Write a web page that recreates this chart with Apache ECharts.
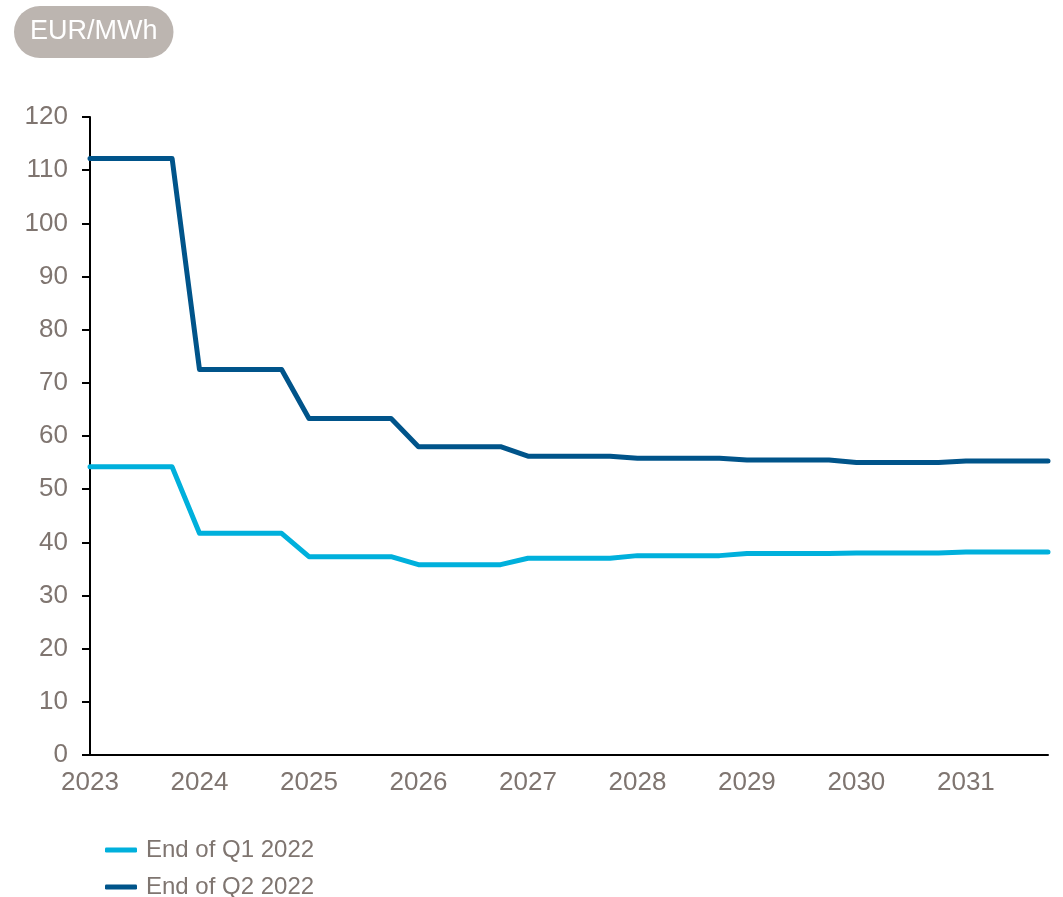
<!DOCTYPE html>
<html>
<head>
<meta charset="utf-8">
<script src="https://cdn.jsdelivr.net/npm/echarts@6/dist/echarts.min.js"></script>
<style>
  html, body { margin: 0; padding: 0; background: #ffffff; }
  #main { width: 1063px; height: 897px; }
</style>
</head>
<body>
<div id="main"></div>
<script>
    // 季度分类（每年4个季度）
    var quarters = [
        '2023 Q1', '2023 Q2', '2023 Q3', '2023 Q4',
        '2024 Q1', '2024 Q2', '2024 Q3', '2024 Q4',
        '2025 Q1', '2025 Q2', '2025 Q3', '2025 Q4',
        '2026 Q1', '2026 Q2', '2026 Q3', '2026 Q4',
        '2027 Q1', '2027 Q2', '2027 Q3', '2027 Q4',
        '2028 Q1', '2028 Q2', '2028 Q3', '2028 Q4',
        '2029 Q1', '2029 Q2', '2029 Q3', '2029 Q4',
        '2030 Q1', '2030 Q2', '2030 Q3', '2030 Q4',
        '2031 Q1', '2031 Q2', '2031 Q3', '2031 Q4'
    ];

    var endQ1 = [
        54.2, 54.2, 54.2, 54.2,
        41.7, 41.7, 41.7, 41.7,
        37.3, 37.3, 37.3, 37.3,
        35.8, 35.8, 35.8, 35.8,
        37.0, 37.0, 37.0, 37.0,
        37.5, 37.5, 37.5, 37.5,
        37.9, 37.9, 37.9, 37.9,
        38.0, 38.0, 38.0, 38.0,
        38.2, 38.2, 38.2, 38.2
    ];

    var endQ2 = [
        112.2, 112.2, 112.2, 112.2,
        72.5, 72.5, 72.5, 72.5,
        63.3, 63.3, 63.3, 63.3,
        58.0, 58.0, 58.0, 58.0,
        56.2, 56.2, 56.2, 56.2,
        55.8, 55.8, 55.8, 55.8,
        55.5, 55.5, 55.5, 55.5,
        55.0, 55.0, 55.0, 55.0,
        55.3, 55.3, 55.3, 55.3
    ];

    var seriesNames = ['End of Q1 2022', 'End of Q2 2022'];
    var unitLabel = 'EUR/MWh';

    var grey = '#7f7570';
    var font = 'Liberation Sans, Arial, sans-serif';

    var myChart = echarts.init(document.getElementById('main'));

    var option = {
        animation: false,
        backgroundColor: '#ffffff',
        title: {
            text: unitLabel,
            left: 14,
            top: 6,
            backgroundColor: '#bcb5b0',
            borderRadius: 26,
            padding: [12, 16, 12, 16],
            textStyle: { color: '#ffffff', fontSize: 27, fontWeight: 'normal', fontFamily: font, lineHeight: 28 }
        },
        legend: {
            orient: 'vertical',
            left: 100,
            top: 833,
            height: 80,
            itemWidth: 32,
            itemHeight: 5,
            itemGap: 13,
            icon: 'roundRect',
            textStyle: { color: grey, fontSize: 24, fontFamily: font, padding: [0, 0, 0, 4] },
            data: seriesNames
        },
        grid: { left: 90, right: 15, top: 117, bottom: 142, containLabel: false },
        xAxis: {
            type: 'category',
            data: quarters,
            boundaryGap: false,
            axisLine: { lineStyle: { color: '#000000', width: 2 } },
            axisTick: { show: false },
            axisLabel: {
                color: grey, fontSize: 26, fontFamily: font, margin: 15,
                interval: function (idx) { return idx % 4 === 0; },
                formatter: function (v) { return v.slice(0, 4); }
            },
            splitLine: { show: false }
        },
        yAxis: {
            type: 'value',
            min: 0,
            max: 120,
            interval: 10,
            axisLine: { show: true, lineStyle: { color: '#000000', width: 2 } },
            axisTick: { show: true, length: 8, lineStyle: { color: '#000000', width: 2 } },
            axisLabel: { color: grey, fontSize: 26, fontFamily: font, margin: 22 },
            splitLine: { show: false }
        },
        series: [
            {
                name: seriesNames[0],
                type: 'line',
                data: endQ1,
                symbol: 'none',
                lineStyle: { color: '#00b0dc', width: 5, cap: 'round', join: 'round' },
                itemStyle: { color: '#00b0dc' }
            },
            {
                name: seriesNames[1],
                type: 'line',
                data: endQ2,
                symbol: 'none',
                lineStyle: { color: '#00548a', width: 5, cap: 'round', join: 'round' },
                itemStyle: { color: '#00548a' }
            }
        ]
    };

    myChart.setOption(option);
</script>
</body>
</html>
